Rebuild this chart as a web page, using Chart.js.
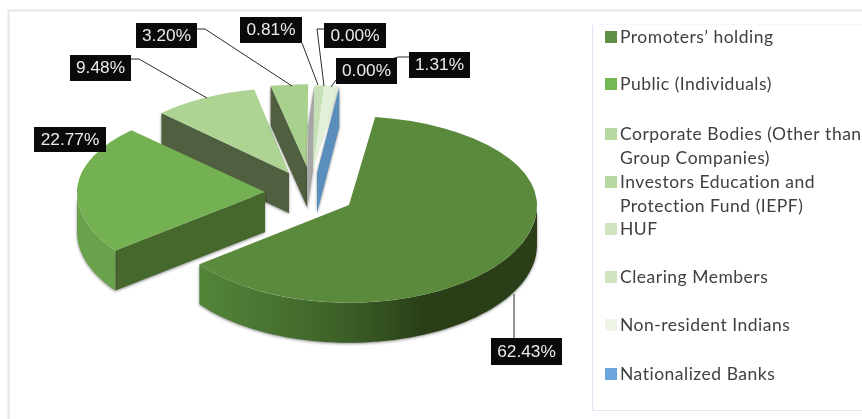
<!DOCTYPE html>
<html><head><meta charset="utf-8">
<style>html,body{margin:0;padding:0;background:#fff}canvas{display:block;filter:blur(0.45px)}</style>
<script src="https://cdn.jsdelivr.net/npm/chart.js@4"></script>
</head><body>
<canvas id="c" width="862" height="419"></canvas>
<script>
const categories = ["Promoters’ holding","Public (Individuals)","Corporate Bodies (Other than Group Companies)","Investors Education and Protection Fund (IEPF)","HUF","Clearing Members","Non-resident Indians","Nationalized Banks"];
const shareValues = [62.43,22.77,9.48,3.20,0.81,0.00,1.31,0.00];

// style only
const legendLines = [["Promoters’ holding"],["Public (Individuals)"],["Corporate Bodies (Other than","Group Companies)"],["Investors Education and","Protection Fund (IEPF)"],["HUF"],["Clearing Members"],["Non-resident Indians"],["Nationalized Banks"]];
const topColors = ["#5b8a3c","#74b152","#aed494","#a9d18e","#c5e0b4","#c5e0b4","#e2efd9","#5b8fbf"];
const swatchColors = ["#5f9048","#72b854","#b5d9a0","#b5d9a0","#cfe5c0","#cfe5c0","#eef5e6","#6aa6dc"];
const wallColors = ["#46682d","#46682d","#505f3f","#505f3f","#a6a6a6","#a6a6a6","#a6a6a6","#5a8ebd"];
const explodeX = [-1,-85,-61,-43,-37,-37,-37,-33];
const explodeY = [-3,-16,-35,-41,-38,-38,-38,-35];
const squashUp = [0.473,0.466,0.453,0.44,0.45,0.45,0.45,0.46];
const squashDown = [0.52,0.515,0.5,0.5,0.5,0.5,0.5,0.5];
const spreadX = [1,1,0.955,1,1.05,1.05,1.05,0.85];
const wallDepth = 40;
const paintOrder = [2,3,4,5,6,7,1,0];
const legendY = [37,84,134,182,229,277,325,374];
const boxes = [[491,338,71,27],[34,127,72,25],[70,55,61,26],[136,23,61,25],[240,17,62,26],[324,23,62,25],[409,52,61,26],[336,58,61,26]];
const leaders = [[[514,338],[514,294]],[],[[131,59],[139,59],[207,98]],[[197,29],[205,29],[292,86]],[[302,43],[318,85]],[[324,29],[317,29],[324,86]],[[409,57],[398,57],[388,60]],[[336,80],[331,87]]];
const labelOrder = [6,1,2,3,4,5,7,0];

function pt(arc,i,a,r,drop){
  const s=Math.sin(a);
  return [arc.x+explodeX[i]+spreadX[i]*r*Math.cos(a), arc.y+explodeY[i]+(s<0?squashUp[i]:squashDown[i])*r*s+(drop||0)];
}
function edgeWall(ctx,arc,i,a,color,skew){
  const s=skew||0;
  const o=pt(arc,i,a,0), e=pt(arc,i,a,arc.outerRadius);
  ctx.fillStyle=color; ctx.beginPath();
  ctx.moveTo(o[0],o[1]); ctx.lineTo(e[0],e[1]);
  ctx.lineTo(e[0]+s,e[1]+wallDepth); ctx.lineTo(o[0]+s,o[1]+wallDepth); ctx.closePath(); ctx.fill();
}
function rimPath(ctx,arc,i,a0,a1){
  const n=60; ctx.beginPath();
  for(let k=0;k<=n;k++){const p=pt(arc,i,a0+(a1-a0)*k/n,arc.outerRadius); k?ctx.lineTo(p[0],p[1]):ctx.moveTo(p[0],p[1]);}
  for(let k=n;k>=0;k--){const p=pt(arc,i,a0+(a1-a0)*k/n,arc.outerRadius,wallDepth); ctx.lineTo(p[0],p[1]);}
  ctx.closePath();
}
function topFace(ctx,arc,i,sq,clipY,clipH){
  ctx.save();
  ctx.beginPath(); ctx.rect(0,clipY,862,clipH); ctx.clip();
  ctx.translate(arc.x+explodeX[i],arc.y+explodeY[i]);
  ctx.scale(spreadX[i],sq);
  ctx.translate(-arc.x,-arc.y);
  arc.draw(ctx);
  ctx.restore();
}
const pie3d = {
  id:'pie3d',
  beforeDatasetsDraw(chart){
    const ctx=chart.ctx, arcs=chart.getDatasetMeta(0).data;
    paintOrder.forEach(i=>{
      const arc=arcs[i], a0=arc.startAngle, a1=arc.endAngle;
      ctx.save();
      ctx.shadowColor='rgba(0,0,0,0.45)'; ctx.shadowBlur=3; ctx.shadowOffsetY=1;
      if(Math.cos(a0)<0) edgeWall(ctx,arc,i,a0,wallColors[i]);
      if(i===4) edgeWall(ctx,arc,i,a0,wallColors[i],-6);
      if(Math.cos(a1)>0 && i===7) edgeWall(ctx,arc,i,a1,wallColors[i]);
      const r0=Math.max(a0,0), r1=Math.min(a1,Math.PI);
      if(r1>r0 && shareValues[i]>5){
        let fill=i===1?"#69a24a":wallColors[i];
        if(i===0){
          const g=ctx.createLinearGradient(arc.x-155,0,arc.x+190,0);
          g.addColorStop(0,"#548639"); g.addColorStop(0.35,"#42682c"); g.addColorStop(0.55,"#33501f"); g.addColorStop(0.66,"#2a3f18"); g.addColorStop(1,"#2a3f18");
          fill=g;
        }
        ctx.fillStyle=fill; rimPath(ctx,arc,i,r0,r1); ctx.fill();
      }
      ctx.restore();
      // top face through the library's arc element, flatter behind the centre than in front
      const cy=arc.y+explodeY[i];
      topFace(ctx,arc,i,squashUp[i],0,cy+0.5);
      topFace(ctx,arc,i,squashDown[i],cy,419-cy);
    });
    return false;
  },
  afterDraw(chart){
    const ctx=chart.ctx;
    ctx.save();
    ctx.strokeStyle="#e6e6e6"; ctx.lineWidth=2;
    ctx.beginPath(); ctx.moveTo(862,10.5); ctx.lineTo(8.5,10.5); ctx.lineTo(8.5,419); ctx.stroke();
    ctx.lineWidth=1; ctx.strokeStyle="#dbe7f5";
    ctx.beginPath(); ctx.moveTo(592.5,25); ctx.lineTo(592.5,410.5); ctx.lineTo(862,410.5); ctx.stroke();
    ctx.strokeStyle="#f4f7fb";
    ctx.beginPath(); ctx.moveTo(592.5,24.5); ctx.lineTo(862,24.5); ctx.stroke();
    ctx.font='17.5px Lato'; ctx.letterSpacing='0.5px'; ctx.textBaseline='middle'; ctx.textAlign='left';
    categories.forEach((c,i)=>{
      ctx.fillStyle=swatchColors[i]; ctx.fillRect(605,legendY[i]-6,12,12);
      ctx.fillStyle="#404040";
      legendLines[i].forEach((t,k)=>ctx.fillText(t,620,legendY[i]+k*24));
    });
    ctx.letterSpacing='0px';
    ctx.strokeStyle="#2b2b2b"; ctx.lineWidth=1;
    labelOrder.forEach(i=>{
      const l=leaders[i];
      if(l.length){ctx.beginPath(); l.forEach((p,k)=>k?ctx.lineTo(p[0],p[1]):ctx.moveTo(p[0],p[1])); ctx.stroke();}
    });
    ctx.font='17.3px "Liberation Sans"'; ctx.textAlign='center';
    labelOrder.forEach(i=>{
      const b=boxes[i];
      ctx.fillStyle="#0a0a0a"; ctx.fillRect(b[0],b[1],b[2],b[3]);
      ctx.fillStyle="#ececec"; ctx.fillText(shareValues[i].toFixed(2)+'%',b[0]+b[2]/2,b[1]+b[3]/2+0.5);
    });
    ctx.restore();
  }
};
new Chart(document.getElementById('c'),{
  type:'pie',
  data:{labels:categories,datasets:[{data:shareValues,backgroundColor:topColors,borderWidth:0}]},
  options:{responsive:false,animation:false,rotation:8,
    layout:{padding:{left:162,right:324,top:20,bottom:23}},
    plugins:{legend:{display:false},tooltip:{enabled:false}}},
  plugins:[pie3d]
});
</script>
</body></html>
